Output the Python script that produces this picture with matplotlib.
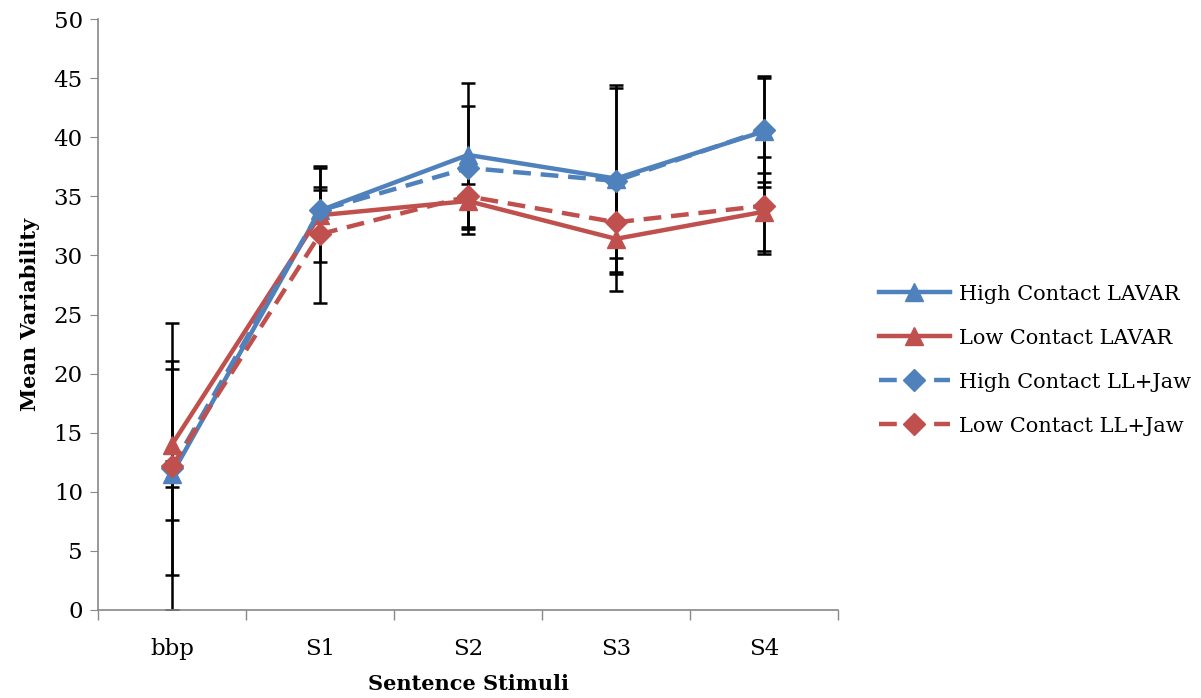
import numpy as np
import matplotlib.pyplot as plt

plt.rcParams['font.family'] = ['DejaVu Serif']

# data
stimuli = ['bbp', 'S1', 'S2', 'S3', 'S4']
high_lavar = [11.5, 33.8, 38.5, 36.5, 40.5]
high_lavar_err = [1.1, 2.0, 6.1, 7.9, 4.7]
low_lavar = [14.0, 33.4, 34.6, 31.4, 33.7]
low_lavar_err = [6.4, 4.0, 2.8, 4.4, 3.3]
high_jaw = [12.05, 33.8, 37.4, 36.3, 40.6]
high_jaw_err = [9.05, 1.7, 5.2, 7.9, 4.4]
low_jaw = [12.15, 31.8, 35.0, 32.8, 34.2]
low_jaw_err = [12.15, 5.8, 1.0, 3.0, 4.1]

blue = '#4F81BD'
red = '#C0504D'

fig = plt.figure(figsize=(12.01, 6.98), dpi=100)
ax = fig.add_axes([98/1201, 1 - 610/698, 740/1201, 591/698])

x = np.arange(len(stimuli))
series = [
    ('High Contact LAVAR', high_lavar, high_lavar_err, blue, '-', '^'),
    ('Low Contact LAVAR', low_lavar, low_lavar_err, red, '-', '^'),
    ('High Contact LL+Jaw', high_jaw, high_jaw_err, blue, '--', 'D'),
    ('Low Contact LL+Jaw', low_jaw, low_jaw_err, red, '--', 'D'),
]

for lab, vals, err, col, ls, mk in series:
    ax.errorbar(x, vals, yerr=err, fmt='none', ecolor='black', elinewidth=1.8,
                capsize=5, capthick=1.8, zorder=2)

for lab, vals, err, col, ls, mk in series:
    ms = 13 if mk == '^' else 11
    ax.plot(x, vals, linestyle=ls, color=col, lw=3.2, marker=mk, markersize=ms,
            label=lab, zorder=3, dashes=(4, 2.2) if ls == '--' else (None, None))

ax.set_xlim(-0.5, 4.5)
ax.set_ylim(0, 50)
ax.set_yticks(np.arange(0, 51, 5))
ax.set_xticks(x)
ax.set_xticklabels(stimuli)
ax.set_xticks(np.arange(-0.5, 4.6, 1), minor=True)
ax.tick_params(axis='x', which='major', length=0, labelsize=16.5, pad=20)
ax.tick_params(axis='x', which='minor', length=7, color='#888888', width=1)
ax.tick_params(axis='y', length=6, color='#888888', labelsize=16.5, pad=5)

for s in ['top', 'right']:
    ax.spines[s].set_visible(False)
for s in ['left', 'bottom']:
    ax.spines[s].set_color('#888888')
    ax.spines[s].set_linewidth(1.2)

ax.set_ylabel('Mean Variability', fontsize=15, fontweight='bold', labelpad=10)
ax.set_xlabel('Sentence Stimuli', fontsize=15, fontweight='bold', labelpad=10)

ax.legend(loc='center left', bbox_to_anchor=(1.03, 0.423), frameon=False,
          fontsize=15, handlelength=3.4, labelspacing=1.2, handletextpad=0.45)

fig.savefig('out.png', dpi=100)
